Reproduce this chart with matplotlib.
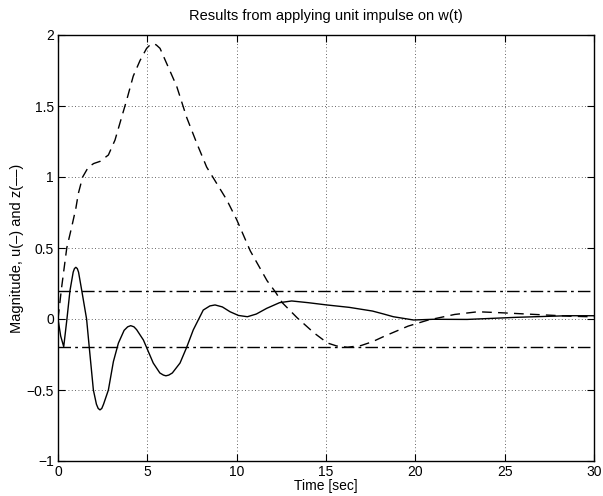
import matplotlib
matplotlib.use("Agg")
import matplotlib.pyplot as plt

# ---- data ----
t_u = [0, 0.15, 0.32, 0.5, 0.67, 0.85, 0.92, 1.0, 1.08, 1.15, 1.33, 1.6, 1.75,
       1.98, 2.15, 2.25, 2.35, 2.45, 2.55, 2.82, 3.1, 3.38, 3.7, 3.9, 4.07,
       4.25, 4.4, 4.78, 5.33, 5.7, 5.9, 6.04, 6.2, 6.4, 6.83, 7.2, 7.57, 8.13,
       8.5, 8.79, 9.2, 9.63, 10.1, 10.6, 11.1, 11.68, 12.4, 13.08, 14.0, 15.04,
       16.3, 17.6, 18.2, 18.77, 19.9, 21.0, 22.9, 25.7, 28.5, 30]
u = [0, -0.12, -0.195, 0.0, 0.2, 0.33, 0.355, 0.364, 0.355, 0.33, 0.2, 0.0,
     -0.2, -0.5, -0.6, -0.63, -0.64, -0.63, -0.6, -0.5, -0.3, -0.17, -0.08,
     -0.055, -0.047, -0.055, -0.075, -0.148, -0.31, -0.38, -0.395, -0.40,
     -0.395, -0.38, -0.31, -0.2, -0.077, 0.063, 0.092, 0.099, 0.085, 0.051,
     0.025, 0.016, 0.035, 0.075, 0.115, 0.127, 0.115, 0.099, 0.082, 0.056,
     0.036, 0.016, -0.007, -0.002, -0.003, 0.012, 0.023, 0.023]

t_z = [0, 0.2, 0.49, 0.77, 1.0, 1.14, 1.38, 1.7, 2.0, 2.35, 2.82, 3.19, 3.56,
       3.84, 4.21, 4.59, 4.96, 5.15, 5.33, 5.5, 5.71, 6.08, 6.64, 7.2, 7.76,
       8.32, 8.88, 9.44, 10.0, 10.76, 11.7, 12.17, 12.55, 13.39, 14.33, 15.08,
       15.6, 16.2, 16.96, 17.6, 18.27, 19.6, 20.7, 22.2, 23.5, 24.8, 26.7,
       28.6, 30]
z = [0, 0.22, 0.50, 0.65, 0.78, 0.885, 1.0, 1.07, 1.095, 1.11, 1.155, 1.26,
     1.42, 1.54, 1.71, 1.82, 1.906, 1.93, 1.94, 1.93, 1.906, 1.80, 1.64, 1.42,
     1.24, 1.07, 0.955, 0.84, 0.70, 0.48, 0.27, 0.19, 0.115, 0.008, -0.098,
     -0.169, -0.19, -0.199, -0.187, -0.16, -0.121, -0.05, -0.008, 0.032,
     0.051, 0.044, 0.032, 0.02, 0.015]

bound_t = [0, 30]
upper = [0.2, 0.2]
lower = [-0.2, -0.2]

xticks = [0, 5, 10, 15, 20, 25, 30]
yticks = [-1, -0.5, 0, 0.5, 1, 1.5, 2]
ytick_labels = ["\u22121", "\u22120.5", "0", "0.5", "1", "1.5", "2"]

plt.rcParams['font.family'] = ['Liberation Sans', 'DejaVu Sans']

fig = plt.figure(figsize=(6.03, 4.96), dpi=100)
ax = fig.add_axes([58 / 603, 1 - 461 / 496, 536 / 603, 426 / 496])

ax.plot(t_u, u, color='black', linewidth=1.0, linestyle='-')
ax.plot(t_z, z, color='black', linewidth=1.0, linestyle=(0, (7, 4.5)))
ax.plot(bound_t, upper, color='black', linewidth=1.0, linestyle=(0, (9, 3, 2, 3)))
ax.plot(bound_t, lower, color='black', linewidth=1.0, linestyle=(0, (9, 3, 2, 3)))

ax.set_xlim(0, 30)
ax.set_ylim(-1, 2)
ax.set_xticks(xticks)
ax.set_xticklabels([str(v) for v in xticks])
ax.set_yticks(yticks)
ax.set_yticklabels(ytick_labels)
ax.grid(True, color='#333333', linestyle=(0, (1, 3)), linewidth=0.6)
ax.tick_params(direction='in', top=True, right=True, length=5, width=0.8,
               labelsize=10, pad=3)
for s in ax.spines.values():
    s.set_linewidth(1.0)

ax.set_title("Results from applying unit impulse on w(t)", fontsize=10.5, pad=11)
ax.set_xlabel("Time [sec]", fontsize=10, labelpad=0)
ax.set_ylabel("Magnitude, u(\u2013) and z(\u2013\u2013)", fontsize=10.5, labelpad=2)

fig.savefig("out.png", dpi=100)
